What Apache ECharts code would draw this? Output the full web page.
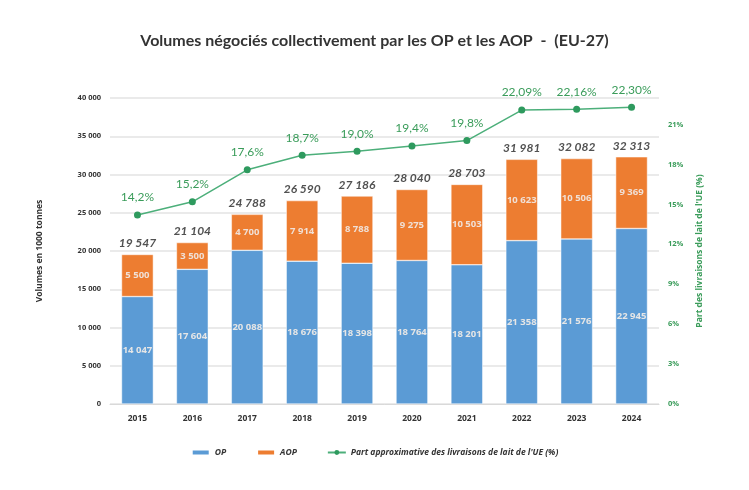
<!DOCTYPE html>
<html>
<head>
<meta charset="utf-8">
<script src="https://cdn.jsdelivr.net/npm/echarts@6/dist/echarts.min.js"></script>
<style>
  html, body { margin: 0; padding: 0; background: #fff; }
  #chart { width: 749px; height: 490px; }
</style>
</head>
<body>
<div id="chart"></div>
<script>
// Données
const years = ['2015', '2016', '2017', '2018', '2019', '2020', '2021', '2022', '2023', '2024'];
const opValues = [14047, 17604, 20088, 18676, 18398, 18764, 18201, 21358, 21576, 22945];
const aopValues = [5500, 3500, 4700, 7914, 8788, 9275, 10503, 10623, 10506, 9369];
const totals = [19547, 21104, 24788, 26590, 27186, 28040, 28703, 31981, 32082, 32313];
const sharePct = [14.2, 15.2, 17.6, 18.7, 19.0, 19.4, 19.8, 22.09, 22.16, 22.30];
const shareLabels = ['14,2%', '15,2%', '17,6%', '18,7%', '19,0%', '19,4%', '19,8%', '22,09%', '22,16%', '22,30%'];

const FONT = 'Lato, "Open Sans", sans-serif';
const SMALL = '"Open Sans", Lato, sans-serif';
const GREEN = '#3a9c5a';

// séparateur de milliers avec espace
const fmt = v => String(v).replace(/\B(?=(\d{3})+(?!\d))/g, ' ');

const chart = echarts.init(document.getElementById('chart'));

const option = {
  textStyle: { fontFamily: FONT },
  title: {
    text: 'Volumes négociés collectivement par les OP et les AOP  -  (EU-27)',
    left: 'center',
    top: 28,
    textStyle: { fontSize: 16, fontWeight: 'bold', color: '#333', fontFamily: FONT }
  },
  grid: { left: 110, right: 90, top: 98, bottom: 86 },
  legend: {
    bottom: 28,
    left: 'center',
    itemWidth: 18,
    itemHeight: 6,
    itemGap: 30,
    textStyle: { fontSize: 8.5, fontStyle: 'italic', fontWeight: 'bold', color: '#333', fontFamily: SMALL },
    data: [
      { name: 'OP', icon: 'rect' },
      { name: 'AOP', icon: 'rect' },
      { name: "Part approximative des livraisons de lait de l'UE (%)" }
    ]
  },
  xAxis: {
    type: 'category',
    data: years,
    axisTick: { show: false },
    axisLine: { lineStyle: { color: '#d9d9d9' } },
    axisLabel: { fontSize: 8.5, fontWeight: 'bold', color: '#333', margin: 10, fontFamily: SMALL }
  },
  yAxis: [
    {
      type: 'value',
      min: 0,
      max: 40000,
      interval: 5000,
      name: 'Volumes en 1000 tonnes',
      nameLocation: 'middle',
      nameGap: 66,
      nameTextStyle: { fontSize: 8.5, fontWeight: 'bold', color: '#333', fontFamily: SMALL },
      axisLabel: { fontSize: 7.5, fontWeight: 'bold', color: '#333', margin: 9, fontFamily: SMALL, formatter: v => fmt(v) },
      splitLine: { lineStyle: { color: '#e3e3e3', width: 1.5 } }
    },
    {
      type: 'value',
      min: 0,
      max: 23,
      interval: 3,
      position: 'right',
      name: "Part des livraisons de lait de l'UE (%)",
      nameLocation: 'middle',
      nameGap: 36,
      nameRotate: 90,
      nameTextStyle: { fontSize: 8.5, fontWeight: 'bold', color: GREEN, fontFamily: SMALL },
      axisLine: { show: false },
      axisTick: { show: false },
      splitLine: { show: false },
      axisLabel: {
        fontSize: 7.5, fontWeight: 'bold', color: GREEN, margin: 9, fontFamily: SMALL,
        showMaxLabel: false,
        formatter: v => (v % 3 === 0 ? v + '%' : '')
      }
    }
  ],
  series: [
    {
      name: 'OP',
      type: 'bar',
      stack: 'vol',
      barWidth: '58%',
      data: opValues,
      itemStyle: { color: '#5b9bd5', borderColor: '#fff', borderWidth: 0.5 },
      label: {
        show: true, position: 'inside', fontSize: 9.5, fontWeight: 'bold', fontFamily: SMALL,
        color: '#e6e6e6', formatter: p => fmt(p.value)
      }
    },
    {
      name: 'AOP',
      type: 'bar',
      stack: 'vol',
      data: aopValues,
      itemStyle: { color: '#ed7d31', borderColor: '#fff', borderWidth: 0.5 },
      label: {
        show: true, position: 'inside', fontSize: 9.5, fontWeight: 'bold', fontFamily: SMALL,
        color: '#f0e0d6', formatter: p => fmt(p.value)
      }
    },
    {
      name: 'Total',
      type: 'scatter',
      data: totals,
      symbolSize: 0,
      silent: true,
      label: {
        show: true, position: 'top', distance: 5, fontSize: 12,
        fontStyle: 'italic', fontWeight: 'bold', color: '#262626',
        formatter: p => fmt(p.value)
      }
    },
    {
      name: "Part approximative des livraisons de lait de l'UE (%)",
      type: 'line',
      yAxisIndex: 1,
      data: sharePct,
      symbol: 'circle',
      symbolSize: 7,
      lineStyle: { color: '#4caf7a', width: 1.5 },
      itemStyle: { color: '#2e9a5e' },
      label: {
        show: true, position: 'top', distance: 8, fontSize: 12,
        color: GREEN, formatter: p => shareLabels[p.dataIndex]
      }
    }
  ]
};

chart.setOption(option);
</script>
</body>
</html>
